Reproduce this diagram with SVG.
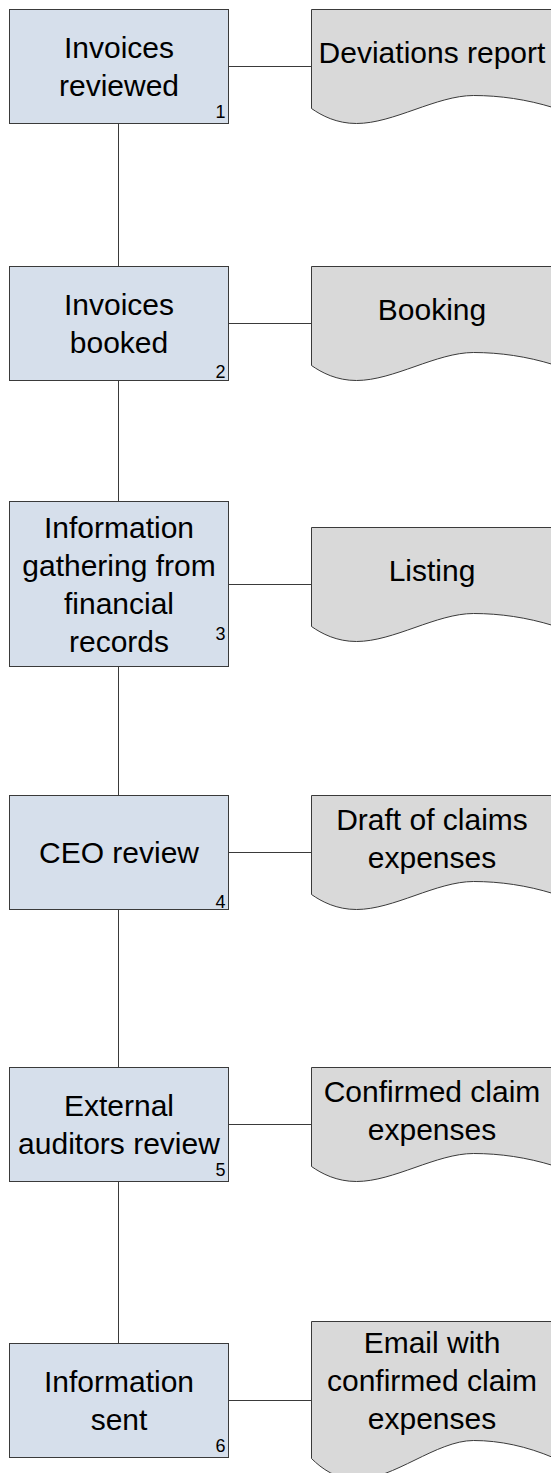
<svg xmlns="http://www.w3.org/2000/svg" width="551" height="1473" viewBox="0 0 551 1473">
<style>
.box{fill:#D6DFEB;stroke:#3A3A3A;stroke-width:1}
.doc{fill:#D9D9D9;stroke:#3A3A3A;stroke-width:1}
.conn line{stroke:#3A3A3A;stroke-width:1;fill:none}
.t{font-family:"Liberation Sans",Arial,sans-serif;font-size:30px;fill:#000;text-anchor:middle}
.n{font-family:"Liberation Sans",Arial,sans-serif;font-size:18px;fill:#000;text-anchor:end}
</style>
<rect width="551" height="1473" fill="#FFFFFF"/>
<g id="connectors" class="conn">
<line x1="118.5" y1="123.5" x2="118.5" y2="266.5"/>
<line x1="118.5" y1="380.5" x2="118.5" y2="501.5"/>
<line x1="118.5" y1="666.5" x2="118.5" y2="795.5"/>
<line x1="118.5" y1="909.5" x2="118.5" y2="1067.5"/>
<line x1="118.5" y1="1181.5" x2="118.5" y2="1343.5"/>
<line x1="228.5" y1="66.5" x2="311.5" y2="66.5"/>
<line x1="228.5" y1="323.5" x2="311.5" y2="323.5"/>
<line x1="228.5" y1="584.5" x2="311.5" y2="584.5"/>
<line x1="228.5" y1="852.5" x2="311.5" y2="852.5"/>
<line x1="228.5" y1="1124.5" x2="311.5" y2="1124.5"/>
<line x1="228.5" y1="1400.5" x2="311.5" y2="1400.5"/>
</g>
<g id="step1">
<rect class="box" x="9.5" y="9.5" width="219" height="114"/>
<text class="t" x="119" y="58">Invoices</text>
<text class="t" x="119" y="96">reviewed</text>
<text class="n" x="225.5" y="118">1</text>
</g>
<g id="doc1">
<path class="doc" d="M311.5,9.5 L553,9.5 L553,107.5 C527,99.5 500,95.5 473.5,95.5 C436.5,95.5 393.5,123.5 356.5,123.5 C336.5,123.5 321.5,115.5 311.5,108.5 Z"/>
<text class="t" x="432" y="63">Deviations report</text>
</g>
<g id="step2">
<rect class="box" x="9.5" y="266.5" width="219" height="114"/>
<text class="t" x="119" y="315">Invoices</text>
<text class="t" x="119" y="353">booked</text>
<text class="n" x="225.5" y="377.5">2</text>
</g>
<g id="doc2">
<path class="doc" d="M311.5,266.5 L553,266.5 L553,364.5 C527,356.5 500,352.5 473.5,352.5 C436.5,352.5 393.5,380.5 356.5,380.5 C336.5,380.5 321.5,372.5 311.5,365.5 Z"/>
<text class="t" x="432" y="320">Booking</text>
</g>
<g id="step3">
<rect class="box" x="9.5" y="501.5" width="219" height="165"/>
<text class="t" x="119" y="537.5">Information</text>
<text class="t" x="119" y="575.5">gathering from</text>
<text class="t" x="119" y="613.5">financial</text>
<text class="t" x="119" y="651.5">records</text>
<text class="n" x="225.5" y="640">3</text>
</g>
<g id="doc3">
<path class="doc" d="M311.5,527.5 L553,527.5 L553,625.5 C527,617.5 500,613.5 473.5,613.5 C436.5,613.5 393.5,641.5 356.5,641.5 C336.5,641.5 321.5,633.5 311.5,626.5 Z"/>
<text class="t" x="432" y="581">Listing</text>
</g>
<g id="step4">
<rect class="box" x="9.5" y="795.5" width="219" height="114"/>
<text class="t" x="119" y="863">CEO review</text>
<text class="n" x="225.5" y="908">4</text>
</g>
<g id="doc4">
<path class="doc" d="M311.5,795.5 L553,795.5 L553,893.5 C527,885.5 500,881.5 473.5,881.5 C436.5,881.5 393.5,909.5 356.5,909.5 C336.5,909.5 321.5,901.5 311.5,894.5 Z"/>
<text class="t" x="432" y="830">Draft of claims</text>
<text class="t" x="432" y="868">expenses</text>
</g>
<g id="step5">
<rect class="box" x="9.5" y="1067.5" width="219" height="114"/>
<text class="t" x="119" y="1116">External</text>
<text class="t" x="119" y="1154">auditors review</text>
<text class="n" x="225.5" y="1176">5</text>
</g>
<g id="doc5">
<path class="doc" d="M311.5,1067.5 L553,1067.5 L553,1165.5 C527,1157.5 500,1153.5 473.5,1153.5 C436.5,1153.5 393.5,1181.5 356.5,1181.5 C336.5,1181.5 321.5,1173.5 311.5,1166.5 Z"/>
<text class="t" x="432" y="1102">Confirmed claim</text>
<text class="t" x="432" y="1140">expenses</text>
</g>
<g id="step6">
<rect class="box" x="9.5" y="1343.5" width="219" height="114"/>
<text class="t" x="119" y="1392">Information</text>
<text class="t" x="119" y="1430">sent</text>
<text class="n" x="225.5" y="1451.5">6</text>
</g>
<g id="doc6">
<path class="doc" d="M311.5,1321.5 L553,1321.5 L553,1457.5 C527,1446.5 500,1440.5 473.5,1440.5 C436.5,1440.5 393.5,1479.5 356.5,1479.5 C336.5,1479.5 321.5,1468.5 311.5,1458.5 Z"/>
<text class="t" x="432" y="1353">Email with</text>
<text class="t" x="432" y="1391">confirmed claim</text>
<text class="t" x="432" y="1429">expenses</text>
</g>
</svg>
